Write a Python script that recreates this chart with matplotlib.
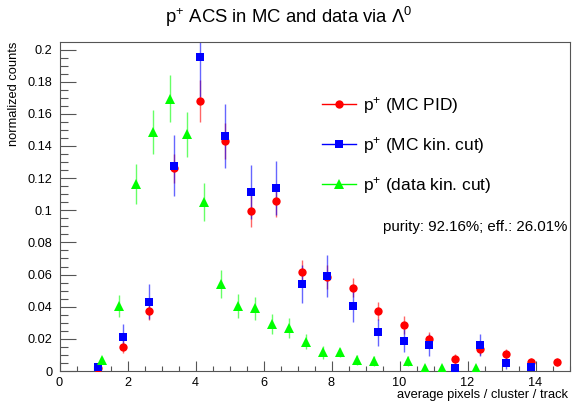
import numpy as np
import matplotlib
matplotlib.use("Agg")
import matplotlib.pyplot as plt
from matplotlib.lines import Line2D
from matplotlib.ticker import MultipleLocator, FuncFormatter

# --- Data ---
# MC histograms: 20 bins of width 0.75 on [0, 15], bin 0 empty
mc_x = [1.125, 1.875, 2.625, 3.375, 4.125, 4.875, 5.625, 6.375, 7.125, 7.875,
        8.625, 9.375, 10.125, 10.875, 11.625, 12.375, 13.125, 13.875, 14.625]
mc_pid = [0.002, 0.0151, 0.0374, 0.1262, 0.168, 0.1432, 0.0996, 0.106, 0.0615, 0.0587,
          0.0519, 0.0374, 0.0286, 0.0199, 0.0073, 0.0139, 0.0106, 0.0058, 0.0056]
mc_pid_err = [0.001, 0.004, 0.0056, 0.009, 0.013, 0.011, 0.010, 0.010, 0.0076, 0.0075,
              0.006, 0.0058, 0.0056, 0.0045, 0.003, 0.004, 0.003, 0.0025, 0.0025]
mc_kin = [0.0027, 0.0214, 0.0431, 0.1276, 0.1953, 0.1463, 0.1113, 0.1139, 0.054, 0.0592,
          0.0405, 0.0241, 0.0189, 0.0162, 0.0021, 0.0162, 0.0052, 0.0023, np.nan]
mc_kin_err = [0.002, 0.008, 0.011, 0.019, 0.025, 0.020, 0.017, 0.017, 0.012, 0.013,
              0.010, 0.0083, 0.007, 0.0066, 0.002, 0.007, 0.004, 0.002, np.nan]

# data histogram: bins of width 0.5
data_x = [1.25, 1.75, 2.25, 2.75, 3.25, 3.75, 4.25, 4.75, 5.25, 5.75, 6.25, 6.75,
          7.25, 7.75, 8.25, 8.75, 9.25, 9.75, 10.25, 10.75, 11.25, 11.75, 12.25]
data_kin = [0.0068, 0.0405, 0.1163, 0.1486, 0.1694, 0.1474, 0.105, 0.054, 0.0405, 0.039,
            0.0291, 0.027, 0.0182, 0.0116, 0.0116, 0.0068, 0.0064, np.nan, 0.0064, 0.0017,
            0.0017, np.nan, 0.0017]
data_kin_err = [0.002, 0.007, 0.0124, 0.0136, 0.0147, 0.014, 0.0118, 0.0086, 0.0073, 0.0072,
                0.0062, 0.0062, 0.0048, 0.004, 0.003, 0.003, 0.003, np.nan, 0.003, 0.0015,
                0.0015, np.nan, 0.0015]

labels = [r"p$^{+}$ (MC PID)", r"p$^{+}$ (MC kin. cut)", r"p$^{+}$ (data kin. cut)"]
purity_text = "purity: 92.16%; eff.: 26.01%"

plt.rcParams["font.family"] = ["Liberation Sans", "DejaVu Sans"]
plt.rcParams["mathtext.fontset"] = "custom"
plt.rcParams["mathtext.rm"] = "Liberation Sans"
plt.rcParams["mathtext.it"] = "Liberation Sans"
plt.rcParams["mathtext.bf"] = "Liberation Sans:bold"

W, H = 572, 401
fig = plt.figure(figsize=(W / 100, H / 100), dpi=100)
ax = fig.add_axes([59.5 / W, 1 - 371 / H, (569.5 - 59.5) / W, (371 - 42.3) / H])

styles = [
    (mc_x, mc_pid, mc_pid_err, "#ff0000", "o", 6.0),
    (mc_x, mc_kin, mc_kin_err, "#0000ff", "s", 5.6),
    (data_x, data_kin, data_kin_err, "#00ff00", "^", 6.5),
]
for xs, ys, es, col, mk, ms in styles:
    ax.errorbar(xs, ys, yerr=es, fmt="none", ecolor=col, elinewidth=1.0,
                alpha=0.6, capsize=0, zorder=2)
    ax.plot(xs, ys, linestyle="none", marker=mk, color=col, markersize=ms,
            markeredgewidth=0, zorder=3)

ax.set_xlim(0, 15)
ax.set_ylim(0, 0.2045)

ax.xaxis.set_major_locator(MultipleLocator(2))
ax.xaxis.set_minor_locator(MultipleLocator(0.5))
ax.yaxis.set_major_locator(MultipleLocator(0.02))
ax.yaxis.set_minor_locator(MultipleLocator(0.005))
ax.yaxis.set_major_formatter(FuncFormatter(lambda v, p: "%g" % round(v, 3)))

spine_col = "#555555"
for s in ax.spines.values():
    s.set_color(spine_col)
    s.set_linewidth(0.8)
ax.tick_params(axis="both", which="both", direction="in", color=spine_col,
               width=0.8, top=False, right=False, labelsize=9.2)
ax.tick_params(axis="y", which="major", length=11.2, pad=5)
ax.tick_params(axis="y", which="minor", length=5.4)
ax.tick_params(axis="x", which="major", length=7.1, pad=4)
ax.tick_params(axis="x", which="minor", length=3.5)

fig.text(288.5 / W, 1 - 17 / H, r"p$^{+}$ ACS in MC and data via $\Lambda^{0}$",
         ha="center", va="center", fontsize=13.3)
fig.text(14 / W, 1 - 42 / H, "normalized counts", rotation=90,
         ha="center", va="top", fontsize=9.3)
fig.text(568 / W, 1 - 395 / H, "average pixels / cluster / track",
         ha="right", va="center", fontsize=9.3)
fig.text(383 / W, 1 - 227 / H, purity_text, ha="left", va="center", fontsize=10.8)

handles = [Line2D([], [], color=c, marker=m, markersize=ms, markeredgewidth=0, lw=1.0)
           for _, _, _, c, m, ms in styles]
fig.legend(handles, labels, loc="upper left", bbox_to_anchor=(321.7 / W, 1 - 95 / H),
           frameon=False, fontsize=12.5, handlelength=1.95, handletextpad=0.45,
           labelspacing=1.1, borderpad=0, borderaxespad=0, numpoints=1)

fig.savefig("out.png", dpi=100)
